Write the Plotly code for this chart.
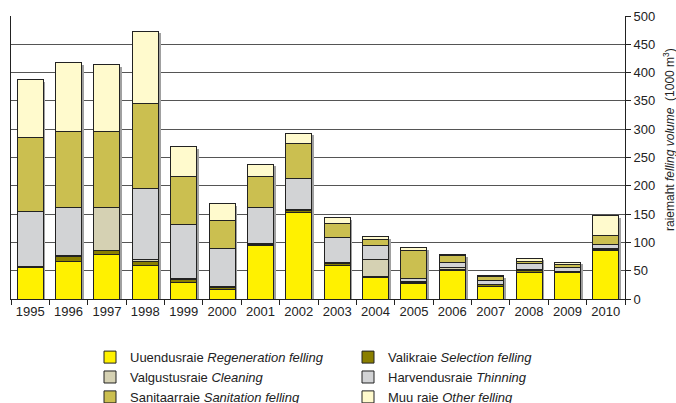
import plotly.graph_objects as go

years = ["1995", "1996", "1997", "1998", "1999", "2000", "2001", "2002",
         "2003", "2004", "2005", "2006", "2007", "2008", "2009", "2010"]

regeneration = [56, 66, 79, 60, 29, 17, 95, 152, 60, 38, 27, 50, 22, 47, 46, 85]
selection    = [2, 9, 7, 6, 5, 4, 2, 4, 3, 1, 3, 3, 3, 3, 2, 3]
cleaning     = [0, 2, 76, 3, 2, 1, 1, 2, 2, 30, 1, 2, 1, 2, 1, 2]
thinning     = [96, 84, 0, 126, 96, 67, 64, 55, 44, 25, 5, 10, 6, 10, 6, 7]
sanitation   = [132, 135, 134, 150, 85, 50, 54, 61, 24, 11, 49, 12, 7, 5, 6, 15]
other        = [102, 122, 118, 128, 52, 30, 22, 19, 11, 5, 6, 1, 2, 5, 4, 35]

y_ticks = [0, 50, 100, 150, 200, 250, 300, 350, 400, 450, 500]

series = [
    ("Uuendusraie <i>Regeneration felling</i>", regeneration, "#FFF100"),
    ("Valikraie <i>Selection felling</i>", selection, "#8A7F00"),
    ("Valgustusraie <i>Cleaning</i>", cleaning, "#D5D1B3"),
    ("Harvendusraie <i>Thinning</i>", thinning, "#D2D3D5"),
    ("Sanitaarraie <i>Sanitation felling</i>", sanitation, "#CBBF50"),
    ("Muu raie <i>Other felling</i>", other, "#FFFACD"),
]

totals = [sum(v) for v in zip(regeneration, selection, cleaning, thinning, sanitation, other)]

BAR_W = 0.68
fig = go.Figure()

# soft drop shadow under each stacked column (base subplot, drawn first)
fig.add_trace(go.Bar(
    x=years, y=totals, xaxis="x", yaxis="y",
    marker=dict(color="#A0A0A0", line=dict(width=0)),
    width=BAR_W, showlegend=False, hoverinfo="skip",
))

for name, vals, color in series:
    fig.add_trace(go.Bar(
        x=years, y=vals, name=name, xaxis="x2", yaxis="y2",
        marker=dict(color=color, line=dict(color="#222222", width=1)),
        width=BAR_W,
    ))

px_per_cat = 614 / 16
px_per_unit = 283 / 500
dx = 2.2 / px_per_cat
dy = 2.2 / px_per_unit

fig.update_layout(
    width=676, height=403,
    barmode="stack",
    plot_bgcolor="white", paper_bgcolor="white",
    margin=dict(l=11, r=51, t=16, b=104),
    font=dict(family="Liberation Sans, Arial, sans-serif", size=13, color="#222222"),
    showlegend=True,
    legend=dict(
        orientation="h", traceorder="normal",
        xref="container", yref="container",
        x=90 / 676, y=0.151, xanchor="left", yanchor="top",
        entrywidth=213, entrywidthmode="pixels",
        tracegroupgap=0, itemwidth=30,
        font=dict(size=13, color="#222222"),
    ),
    xaxis=dict(
        type="category", range=[-0.5 - dx, 15.5 - dx],
        visible=False, fixedrange=True,
    ),
    yaxis=dict(
        range=[0 + dy, 500 + dy], visible=False, showgrid=False, fixedrange=True,
    ),
    xaxis2=dict(
        type="category", overlaying="x", side="bottom", anchor="y2",
        range=[-0.5, 15.5],
        showline=True, linecolor="#222222", linewidth=1,
        ticks="outside", ticklen=5, tickcolor="#222222",
        tickson="boundaries", tickangle=0,
        showgrid=False, automargin=False,
        tickfont=dict(size=13),
    ),
    yaxis2=dict(
        overlaying="y", side="right", anchor="x2",
        range=[0, 500], tickvals=y_ticks,
        showline=True, linecolor="#222222", linewidth=1, mirror=True,
        ticks="outside", ticklen=5, tickcolor="#222222",
        showgrid=True, gridcolor="#555555", gridwidth=1,
        zeroline=False, automargin=False,
        tickfont=dict(size=13),
    ),
    annotations=[dict(
        text="raiemaht <i>felling volume</i>  (1000 m<sup>3</sup>)",
        xref="paper", yref="paper",
        x=(669 - 11) / 614, y=(299 - 140) / 283,
        xanchor="center", yanchor="middle",
        textangle=-90, showarrow=False,
        font=dict(size=12, color="#222222"),
    )],
)

fig.write_html("out.html",
               config={"displayModeBar": False},
               post_script="document.body.style.margin='0px';document.body.style.overflow='hidden';")
